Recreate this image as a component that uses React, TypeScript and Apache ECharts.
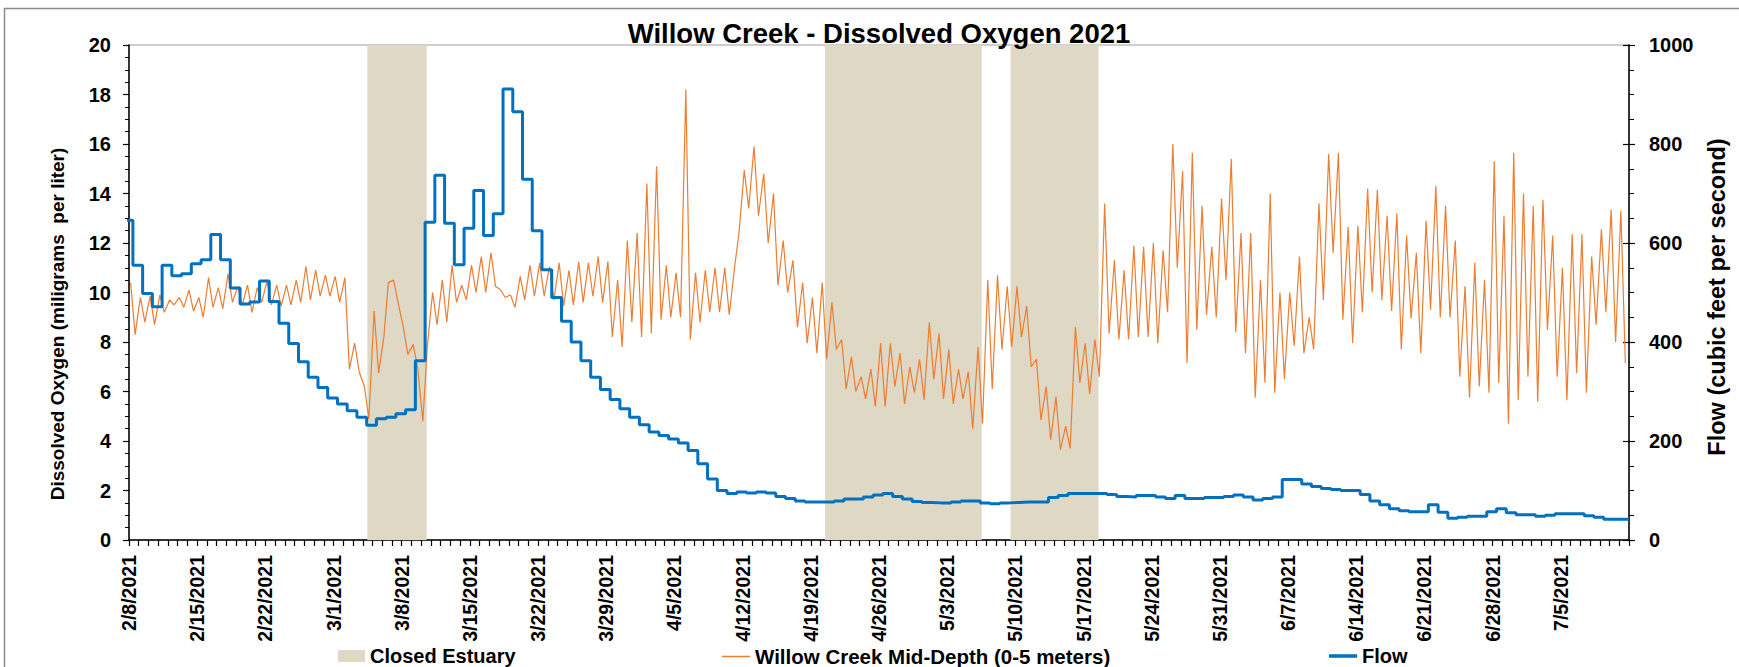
import React, { useEffect, useRef } from 'react';
import * as echarts from 'echarts';

// ---------- data ----------
const axisStart = '2021-02-08T00:00:00Z';
const axisDays = 154;
const weekLabels = [
  '2/8/2021', '2/15/2021', '2/22/2021', '3/1/2021', '3/8/2021', '3/15/2021', '3/22/2021',
  '3/29/2021', '4/5/2021', '4/12/2021', '4/19/2021', '4/26/2021', '5/3/2021', '5/10/2021',
  '5/17/2021', '5/24/2021', '5/31/2021', '6/7/2021', '6/14/2021', '6/21/2021', '6/28/2021', '7/5/2021',
];

// Flow (cfs), one reading per day; first reading begins at flowFirstStart
const flowFirstStart = '2021-02-07T09:36:00Z';
const flowDaily = [
  646, 555, 498, 471, 555, 534, 538, 558, 566, 617, 566, 509, 477, 481, 523, 482, 438, 397, 360, 329,
  308, 287, 275, 261, 248, 232, 245, 248, 255, 263, 362, 642, 737, 640, 556, 630, 706, 615, 659, 911,
  865, 729, 625, 546, 490, 442, 400, 362, 329, 304, 284, 265, 248, 233, 218, 211, 204, 196, 181, 154,
  123, 100, 94, 97, 95, 97, 95, 88, 84, 79, 77, 77, 77, 79, 83, 83, 87, 91, 94, 88,
  83, 78, 76, 75, 75, 77, 79, 79, 75, 73, 75, 76, 77, 77, 77, 86, 90, 94, 94, 94,
  94, 92, 88, 87, 90, 90, 87, 84, 90, 84, 84, 86, 86, 88, 91, 87, 81, 84, 87, 122,
  122, 113, 108, 104, 102, 100, 100, 92, 79, 71, 63, 59, 57, 57, 71, 56, 44, 46, 48, 48,
  57, 63, 55, 51, 51, 48, 50, 53, 53, 53, 49, 46, 42, 42, 42,
];

// Dissolved oxygen (mg/L): an early-morning and an afternoon reading for each day from 2/8
const doAmHour = 4;
const doPmHour = 15;
const doAm = [
  10.4, 9.8, 9.85, 9.9, 9.7, 9.8, 10.1, 9.8, 10.6, 10.2, 10.75, 10.25, 10.3, 10.2, 10.45, 10.3, 10.3, 10.5, 11.05, 10.9,
  10.7, 10.65, 10.6, 7.95, 6.2, 9.25, 8.2, 10.5, 8.6, 7.9, 4.8, 10.0, 10.5, 11.1, 10.3, 11.1, 11.45, 11.6, 10.1, 9.9,
  10.65, 11.1, 11.2, 11.05, 11.2, 10.9, 11.25, 11.2, 11.45, 11.25, 10.5, 12.1, 12.4, 14.4, 15.1, 11.1, 10.8, 18.2, 10.8, 10.9,
  11.0, 11.0, 11.0, 14.95, 15.9, 14.8, 14.0, 12.1, 11.3, 10.4, 9.8, 10.4, 9.6, 8.1, 7.4, 6.6, 6.9, 7.95, 7.95, 7.55,
  7.0, 7.3, 8.8, 8.35, 7.7, 6.9, 6.8, 7.8, 10.5, 10.7, 10.25, 10.25, 9.45, 7.3, 6.2, 5.8, 4.6, 8.6, 7.95, 8.1,
  13.6, 11.3, 10.9, 11.9, 11.85, 12.0, 11.7, 16.0, 14.9, 15.65, 13.5, 11.85, 13.8, 15.4, 12.4, 12.4, 10.5, 14.0, 10.0, 10.0,
  11.45, 9.0, 13.6, 15.6, 15.65, 12.65, 12.7, 14.2, 14.15, 13.1, 13.2, 12.3, 11.6, 12.9, 14.3, 13.5, 12.1, 10.25, 11.2, 10.5,
  15.3, 13.1, 15.65, 14.0, 13.5, 13.75, 12.3, 11.0, 12.35, 12.35, 11.45, 12.55, 13.35, 13.3,
];
const doPm = [
  8.3, 8.8, 8.7, 9.2, 9.5, 9.4, 9.25, 9.0, 9.4, 9.35, 9.6, 9.5, 9.2, 9.6, 9.5, 9.45, 9.5, 9.6, 9.7, 9.85,
  9.85, 9.6, 6.9, 6.8, 4.9, 6.75, 10.4, 9.6, 7.5, 7.0, 7.8, 8.7, 8.8, 9.6, 9.7, 10.0, 10.0, 10.25, 9.8, 9.4,
  9.7, 9.85, 9.85, 9.7, 9.45, 9.5, 9.6, 9.85, 9.6, 8.2, 7.8, 8.8, 8.2, 8.35, 8.9, 9.0, 9.0, 8.1, 8.8, 9.2,
  9.2, 9.1, 12.4, 13.4, 13.1, 12.0, 10.3, 10.0, 8.6, 7.95, 7.55, 7.3, 7.7, 6.1, 6.0, 5.7, 5.4, 5.4, 6.2, 5.5,
  5.95, 5.67, 6.5, 5.7, 5.5, 5.7, 4.5, 4.7, 6.1, 7.7, 7.8, 8.2, 7.0, 4.85, 4.05, 3.65, 3.7, 6.35, 5.9, 6.6,
  8.35, 8.1, 8.1, 8.2, 8.2, 7.95, 9.2, 11.0, 7.15, 8.5, 9.1, 9.0, 10.5, 8.4, 7.55, 5.75, 6.35, 5.95, 6.5, 7.85,
  7.55, 7.7, 9.7, 11.6, 8.9, 7.95, 9.2, 10.0, 9.7, 9.25, 7.7, 8.95, 7.55, 9.3, 9.0, 9.0, 6.6, 5.75, 6.2, 5.95,
  6.35, 4.7, 5.65, 6.6, 5.6, 8.5, 6.6, 5.65, 6.75, 5.95, 8.7, 9.2, 8.0, 7.15,
];

// Closed estuary periods
const closedStart = ['2021-03-04T11:20:00Z', '2021-04-20T11:00:00Z', '2021-05-09T12:00:00Z'];
const closedEnd = ['2021-03-10T13:30:00Z', '2021-05-06T13:10:00Z', '2021-05-18T13:00:00Z'];

const seriesNames = ['Closed Estuary', 'Willow Creek Mid-Depth (0-5 meters)', 'Flow'];

// ---------- helpers ----------
const DAY = 86400000;
const dayOf = (s: string) => (Date.parse(s) - Date.parse(axisStart)) / DAY;

const FONT = '"Liberation Sans", Arial, sans-serif';
const BAND = '#DFD8C4';
const ORANGE = '#ED7D31';
const BLUE = '#0070C0';

export default function App() {
  const ref = useRef<HTMLDivElement>(null);

  useEffect(() => {
    document.body.style.margin = '0';
    if (!ref.current) return;
    const chart = echarts.init(ref.current, undefined, { renderer: 'svg' });

    const flowStartDay = dayOf(flowFirstStart);
    const flowData: number[][] = flowDaily.map((v, k) => [flowStartDay + k, v]);
    flowData.push([axisDays, flowDaily[flowDaily.length - 1]]);

    const doData: number[][] = [];
    doAm.forEach((v, d) => {
      doData.push([d + doAmHour / 24, v]);
      doData.push([d + doPmHour / 24, doPm[d]]);
    });

    const bandData = closedStart.map((s, i) => [dayOf(s), dayOf(closedEnd[i])]);

    const legendText = { color: '#000', fontWeight: 'bold' as const, fontSize: 20, fontFamily: FONT };

    chart.setOption({
      animation: false,
      backgroundColor: '#fff',
      grid: { left: 129, right: 110, top: 45, bottom: 127, show: true, borderColor: '#bfbfbf', borderWidth: 1.5, backgroundColor: 'transparent' },
      xAxis: {
        type: 'value',
        min: 0,
        max: axisDays,
        interval: 1,
        axisLine: { show: true, lineStyle: { color: '#000', width: 1.5 } },
        axisTick: { show: true, length: 6, lineStyle: { color: '#000', width: 1.2 } },
        splitLine: { show: false },
        axisLabel: {
          rotate: 90,
          margin: 15,
          color: '#000',
          fontWeight: 'bold',
          fontSize: 19.5,
          fontFamily: FONT,
          formatter: (v: number) => (v % 7 === 0 && weekLabels[v / 7] ? weekLabels[v / 7] : ''),
        },
      },
      yAxis: [
        {
          type: 'value', min: 0, max: 20, interval: 2, position: 'left',
          axisLine: { show: true, lineStyle: { color: '#000', width: 1.5 } },
          axisTick: { show: true, length: 6, lineStyle: { color: '#000', width: 1.2 } },
          minorTick: { show: true, splitNumber: 4, length: 4, lineStyle: { color: '#000', width: 1 } },
          splitLine: { show: false },
          axisLabel: { margin: 18, color: '#000', fontWeight: 'bold', fontSize: 20, fontFamily: FONT },
        },
        {
          type: 'value', min: 0, max: 1000, interval: 200, position: 'right',
          axisLine: { show: true, lineStyle: { color: '#000', width: 1.5 } },
          axisTick: { show: true, length: 6, lineStyle: { color: '#000', width: 1.2 } },
          minorTick: { show: true, splitNumber: 4, length: 5, lineStyle: { color: '#000', width: 1 } },
          splitLine: { show: false },
          axisLabel: { margin: 20, color: '#000', fontWeight: 'bold', fontSize: 20, fontFamily: FONT, formatter: (v: number) => String(v) },
        },
        {
          type: 'value', min: 0, max: 1000, interval: 200, position: 'right',
          axisLine: { show: false },
          axisTick: { show: true, inside: true, length: 6, lineStyle: { color: '#000', width: 1.2 } },
          axisLabel: { show: false },
          splitLine: { show: false },
        },
      ],
      legend: [
        { data: [seriesNames[0]], left: 333, top: 641, icon: 'rect', itemWidth: 27, itemHeight: 12, textStyle: legendText },
        { data: [seriesNames[1]], left: 717, top: 641, icon: 'rect', itemWidth: 28, itemHeight: 1.5, textStyle: { ...legendText, fontSize: 20.5 } },
        { data: [seriesNames[2]], left: 1324, top: 641, icon: 'rect', itemWidth: 28, itemHeight: 3.5, textStyle: legendText },
      ],
      series: [
        {
          type: 'custom',
          name: seriesNames[0],
          xAxisIndex: 0,
          yAxisIndex: 0,
          data: bandData,
          encode: { x: [0, 1] },
          itemStyle: { color: BAND },
          silent: true,
          z: 1,
          renderItem: (params: any, api: any) => {
            const p0 = api.coord([api.value(0), 20]);
            const p1 = api.coord([api.value(1), 0]);
            return {
              type: 'rect',
              shape: { x: p0[0], y: p0[1], width: p1[0] - p0[0], height: p1[1] - p0[1] },
              style: { fill: BAND },
            };
          },
        },
        {
          type: 'line',
          name: seriesNames[1],
          xAxisIndex: 0,
          yAxisIndex: 0,
          data: doData,
          showSymbol: false,
          symbol: 'none',
          lineStyle: { color: ORANGE, width: 1.2 },
          itemStyle: { color: ORANGE },
          z: 3,
        },
        {
          type: 'line',
          name: seriesNames[2],
          xAxisIndex: 0,
          yAxisIndex: 1,
          data: flowData,
          step: 'end',
          showSymbol: false,
          symbol: 'none',
          lineStyle: { color: BLUE, width: 3 },
          itemStyle: { color: BLUE },
          z: 4,
        },
      ],
      graphic: [
        {
          type: 'rect', silent: true, z: 0,
          shape: { x: 4.5, y: 8.5, width: 1800, height: 700 },
          style: { fill: 'none', stroke: '#8c8c8c', lineWidth: 1.5 },
        },
        {
          type: 'text', z: 10,
          x: 879, y: 33,
          style: { text: 'Willow Creek - Dissolved Oxygen 2021', font: `bold 27.5px ${FONT}`, fill: '#000', textAlign: 'center', textVerticalAlign: 'middle' },
        },
        {
          type: 'text', z: 10,
          x: 57.5, y: 324, rotation: Math.PI / 2,
          style: { text: 'Dissolved Oxygen (miligrams  per liter)', font: `bold 19px ${FONT}`, fill: '#000', textAlign: 'center', textVerticalAlign: 'middle' },
        },
        {
          type: 'text', z: 10,
          x: 1717, y: 297, rotation: Math.PI / 2,
          style: { text: 'Flow (cubic feet per second)', font: `bold 23.5px ${FONT}`, fill: '#000', textAlign: 'center', textVerticalAlign: 'middle' },
        },
      ],
    });

    return () => chart.dispose();
  }, []);

  return <div ref={ref} style={{ width: 1739, height: 667 }} />;
}
